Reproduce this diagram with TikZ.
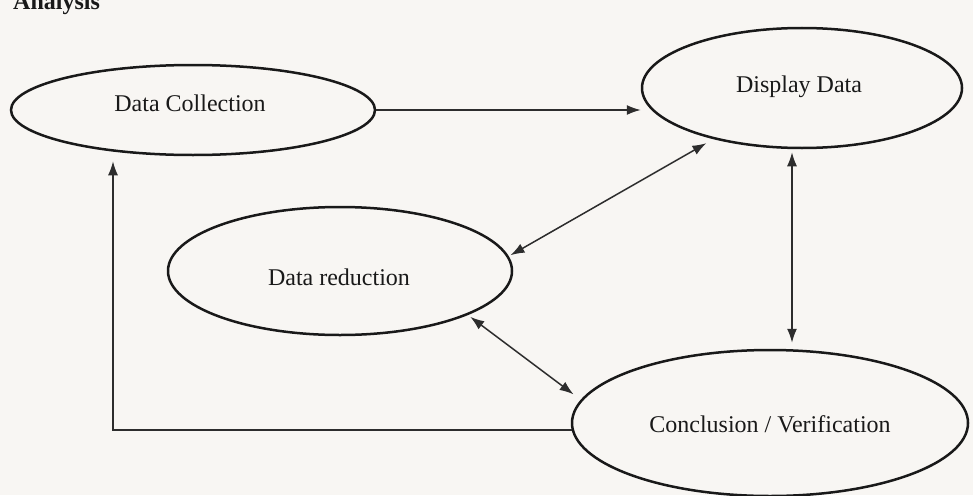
\documentclass[tikz,border=0pt]{standalone}
\usepackage{fontspec}
\setmainfont{Liberation Serif}
\usetikzlibrary{shapes.geometric,arrows.meta}
\definecolor{paper}{RGB}{248,246,243}
\definecolor{ink}{RGB}{25,25,25}
\definecolor{lineink}{RGB}{45,45,45}
\begin{document}
\begin{tikzpicture}[x=1pt,y=-1pt,
  ell/.style={ellipse,draw=ink,line width=2.5pt,inner sep=0pt},
  lbl/.style={font=\fontsize{24}{28}\selectfont,text=ink},
  con/.style={draw=lineink,line width=1.5pt},
  tip/.style={-{Latex[length=14pt,width=10pt]}},
  tips/.style={{Latex[length=14pt,width=10pt]}-{Latex[length=14pt,width=10pt]}}]
\useasboundingbox (0,0) rectangle (973,495);
\clip (0,0) rectangle (973,495);
\fill[paper] (0,0) rectangle (973,495);
% title fragment
\node[font=\bfseries\fontsize{24}{28}\selectfont,anchor=base west,text=ink,inner sep=0pt] (title) at (13,10) {Analysis};
% ellipses
\node[ell,minimum width=364pt,minimum height=90pt] (dc) at (193,110) {};
\node[lbl] (dct) at (190,103) {Data Collection};
\node[ell,minimum width=320pt,minimum height=120pt] (dd) at (802,88) {};
\node[lbl] (ddt) at (799,87) {Display Data};
\node[ell,minimum width=344pt,minimum height=128pt] (dr) at (340,271) {};
\node[lbl] (drt) at (339,277) {Data reduction};
\node[ell,minimum width=396pt,minimum height=146pt] (cv) at (770,423) {};
\node[lbl] (cvt) at (770,424) {Conclusion / Verification};
% connectors
\coordinate (vx) at (792,0);
\coordinate (fbx) at (113,0);
\draw[con,tip] (dc.east) -- (dc.east -| dd.west);
\draw[con,tips,shorten <=2pt,shorten >=8pt] (dr.5) -- (dd.210);
\draw[con,tips,shorten <=3pt,shorten >=6pt] (dd.south -| vx) -- (cv.north -| vx);
\draw[con,tips,shorten <=3pt,shorten >=9pt] (dr.-19) -- (cv.173);
\draw[con,tip,shorten >=5pt] (cv.182) -| (dc.south -| fbx);
\end{tikzpicture}
\end{document}
